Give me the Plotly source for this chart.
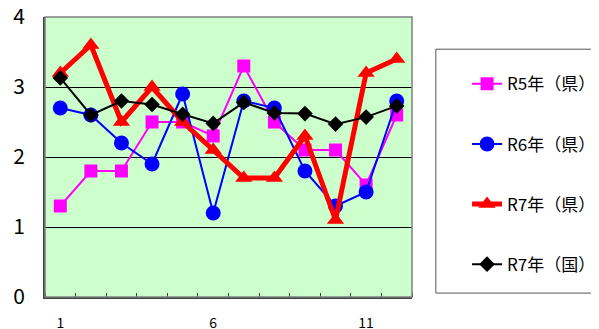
"""Monthly comparison chart, R5-R7 (prefecture) vs R7 (national)."""

import plotly.graph_objects as go

months = list(range(1, 13))
r5_ken = [1.3, 1.8, 1.8, 2.5, 2.5, 2.3, 3.3, 2.5, 2.1, 2.1, 1.6, 2.6]
r6_ken = [2.7, 2.6, 2.2, 1.9, 2.9, 1.2, 2.8, 2.7, 1.8, 1.3, 1.5, 2.8]
r7_ken = [3.2, 3.6, 2.5, 3.0, 2.5, 2.1, 1.7, 1.7, 2.3, 1.1, 3.2, 3.4]
r7_kuni = [3.13, 2.6, 2.8, 2.75, 2.61, 2.48, 2.78, 2.63, 2.62, 2.47, 2.57, 2.73]

x_tickvals = [1, 6, 11]
x_ticktext = ["1", "6", "11"]

font_name = "Noto Sans CJK JP"

fig = go.Figure()

# series definitions: name, values, colour, line width, marker
series = [
    ("R5年（県）", r5_ken, "#FF00FF", 2, dict(symbol="square", size=13)),
    ("R6年（県）", r6_ken, "#0000FF", 2, dict(symbol="circle", size=15)),
    ("R7年（県）", r7_ken, "#FF0000", 5, dict(symbol="triangle-up", size=15)),
    ("R7年（国）", r7_kuni, "#000000", 2, dict(symbol="diamond", size=12)),
]

for i, (name, vals, color, lw, mk) in enumerate(series):
    fig.add_trace(go.Scatter(
        x=months,
        y=vals,
        mode="lines+markers",
        name=name,
        legendgroup="g%d" % i,
        line=dict(color=color, width=lw),
        marker=dict(color=color, **mk),
        cliponaxis=False,
    ))

# page body has an 8px margin, so the figure is sized/offset to compensate
fig.update_layout(
    width=591,
    height=321,
    margin=dict(l=37, r=187, t=9, b=32, autoexpand=False),
    paper_bgcolor="white",
    plot_bgcolor="#CCFFCC",
    font=dict(family=font_name, color="black"),
    showlegend=True,
    legend=dict(
        x=1.15, xanchor="left",
        y=0.824, yanchor="top",
        font=dict(size=17, family=font_name),
        tracegroupgap=35,
        bgcolor="rgba(0,0,0,0)",
    ),
    xaxis=dict(
        range=[0.5, 12.5],
        tickvals=x_tickvals,
        ticktext=x_ticktext,
        ticks="",
        showgrid=False,
        zeroline=False,
        showline=True,
        linecolor="#404040",
        linewidth=2,
        tickfont=dict(size=14, family=font_name),
        ticklabelstandoff=12,
        ticklabeloverflow="allow",
        minor=dict(tick0=0.5, dtick=1, ticks="inside", ticklen=4,
                   tickcolor="#404040", showgrid=False),
    ),
    yaxis=dict(
        range=[0, 4],
        tickvals=[0, 1, 2, 3, 4],
        ticks="",
        showgrid=True,
        gridcolor="black",
        gridwidth=1,
        zeroline=False,
        showline=True,
        linecolor="#404040",
        linewidth=2,
        tickfont=dict(size=21, family=font_name),
        ticklabelstandoff=14,
        ticklabeloverflow="allow",
    ),
    shapes=[
        # gray frame around plot area
        dict(type="rect", xref="paper", yref="paper", x0=0, x1=1, y0=0, y1=1,
             line=dict(color="#808080", width=1.5), layer="above"),
        # legend box
        dict(type="rect", xref="paper", yref="paper",
             x0=1.065, x1=1.503, y0=0.014, y1=0.885,
             line=dict(color="#555555", width=1)),
    ],
)

fig.write_html("out.html")
